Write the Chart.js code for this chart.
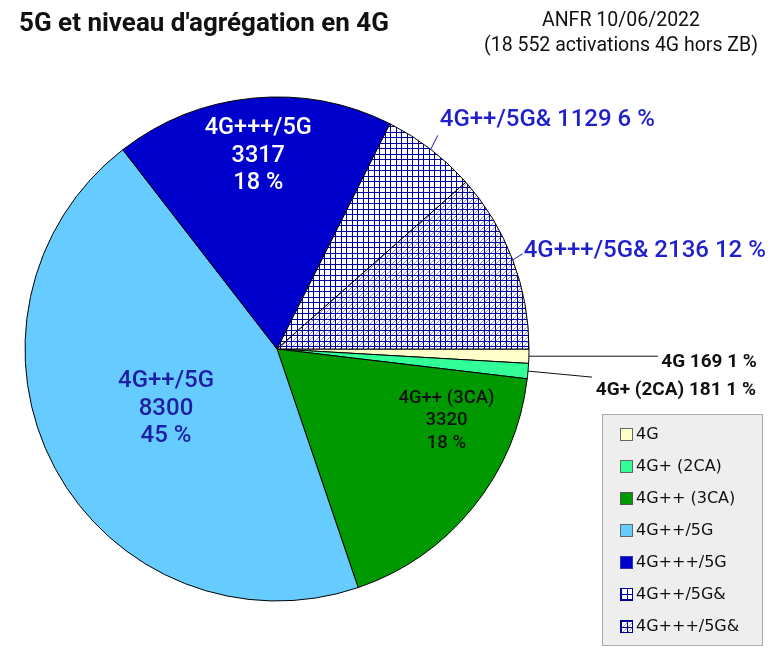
<!DOCTYPE html>
<html>
<head>
<meta charset="utf-8">
<script src="https://cdn.jsdelivr.net/npm/chart.js@4.4.1/dist/chart.umd.min.js"></script>
<style>
html,body{margin:0;padding:0;background:#fff;}
#wrap{width:769px;height:650px;position:relative;}
</style>
</head>
<body>
<div id="wrap"><canvas id="c" width="769" height="650"></canvas></div>
<script>
// ---- data ----
const categories = ['4G', '4G+ (2CA)', '4G++ (3CA)', '4G++/5G', '4G+++/5G', '4G++/5G&', '4G+++/5G&'];
const activations = [169, 181, 3320, 8300, 3317, 1129, 2136];
const titleText = "5G et niveau d'agrégation en 4G";
const sourceLines = ['ANFR 10/06/2022', '(18 552 activations 4G hors ZB)'];

// ---- patterns ----
function makePattern(diag) {
  const t = document.createElement('canvas');
  t.width = 11; t.height = 11;
  const g = t.getContext('2d');
  g.fillStyle = '#ffffff'; g.fillRect(0, 0, 11, 11);
  if (diag) {
    g.strokeStyle = 'rgba(90,90,215,0.65)'; g.lineWidth = 1;
    g.beginPath();
    [[0,5,5,0],[0,11,5,6],[6,5,11,0],[6,11,11,6]].forEach(([x1,y1,x2,y2])=>{g.moveTo(x1+0.5,y1+0.5);g.lineTo(x2+0.5,y2+0.5);});
    g.stroke();
  }
  g.fillStyle = '#00009c';
  g.fillRect(0, 0, 1, 11); g.fillRect(5, 0, 1, 11);
  g.fillRect(0, 0, 11, 1); g.fillRect(0, 5, 11, 1);
  return document.getElementById('c').getContext('2d').createPattern(t, 'repeat');
}
const gridPat = makePattern(false);
const diagPat = makePattern(true);
const sliceColors = ['#ffffcc', '#33ff99', '#009900', '#66ccff', '#0000cc', gridPat, diagPat];
const swatchBorders = ['#666', '#666', '#555', '#666', '#3333aa', '#00009c', '#00009c'];

const total = activations.reduce((a, b) => a + b, 0);
const pct = v => Math.round(v / total * 100) + ' %';

// label styles: inside (multi-line) or outside (single line with leader)
const labelStyles = [
  {type:'out', color:'#111', font:'bold 19px Roboto', lead:[129,0], align:'right', tx:99, ty:6},
  {type:'out', color:'#111', font:'bold 19px Roboto', lead:[64,6], align:'right', tx:164, ty:13},
  {type:'in', color:'#111', font:'500 18.5px Roboto', frac:0.25, r:0.73, lh:22.5},
  {type:'in', color:'#1f1fa6', font:'500 24px Roboto', frac:0.5, r:0.5, lh:27.5},
  {type:'in', color:'#ffffff', font:'500 23.5px Roboto', frac:0.5, r:0.77, lh:27.5},
  {type:'out', color:'#1f1fcc', font:'500 24px Roboto', lead:[7,-14], align:'left', tx:2, ty:-15},
  {type:'out', color:'#1f1fcc', font:'500 24px Roboto', lead:[10,-6], align:'left', tx:1, ty:-3},
];

const textPlugin = {
  id: 'texts',
  afterDatasetsDraw(chart) {
    const ctx = chart.ctx;
    const meta = chart.getDatasetMeta(0);
    ctx.save();
    meta.data.forEach((arc, i) => {
      const s = labelStyles[i];
      const v = activations[i];
      const {x, y, startAngle, endAngle, outerRadius} = arc.getProps(['x','y','startAngle','endAngle','outerRadius'], true);
      ctx.font = s.font; ctx.fillStyle = s.color; ctx.textBaseline = 'middle';
      if (s.type === 'in') {
        const a = startAngle + (endAngle - startAngle) * s.frac;
        const cx = x + Math.cos(a) * outerRadius * s.r;
        const cy = y + Math.sin(a) * outerRadius * s.r;
        const lines = [categories[i], String(v), pct(v)];
        ctx.textAlign = 'center';
        lines.forEach((l, k) => ctx.fillText(l, cx, cy + (k - 1) * s.lh));
      } else {
        const a = (startAngle + endAngle) / 2;
        const ex = x + Math.cos(a) * outerRadius, ey = y + Math.sin(a) * outerRadius;
        const lx = ex + s.lead[0], ly = ey + s.lead[1];
        ctx.strokeStyle = s.color; ctx.lineWidth = 1;
        ctx.beginPath(); ctx.moveTo(ex, ey); ctx.lineTo(lx, ly); ctx.stroke();
        ctx.textAlign = s.align;
        ctx.fillText(categories[i] + ' ' + v + ' ' + pct(v), lx + s.tx, ly + s.ty);
      }
    });
    // title
    ctx.fillStyle = '#111'; ctx.textAlign = 'left'; ctx.textBaseline = 'middle';
    ctx.font = 'bold 26px Roboto';
    ctx.fillText(titleText, 19, 24);
    ctx.font = '19.5px Roboto'; ctx.textAlign = 'center';
    ctx.fillText(sourceLines[0], 621, 21);
    ctx.fillText(sourceLines[1], 621, 46);
    // legend
    const L = {x: 602, y: 414, w: 160, h: 231};
    ctx.fillStyle = '#eeeeee'; ctx.fillRect(L.x, L.y, L.w, L.h);
    ctx.strokeStyle = '#aaaaaa'; ctx.lineWidth = 1;
    ctx.strokeRect(L.x + 0.5, L.y + 0.5, L.w, L.h);
    ctx.font = '16px "DejaVu Sans"'; ctx.textAlign = 'left'; ctx.textBaseline = 'middle';
    categories.forEach((c, i) => {
      const cy = L.y + 20 + i * 32;
      ctx.fillStyle = sliceColors[i];
      ctx.fillRect(L.x + 18, cy - 6, 13, 13);
      ctx.strokeStyle = swatchBorders[i];
      ctx.strokeRect(L.x + 18.5, cy - 5.5, 12, 12);
      ctx.fillStyle = '#111';
      ctx.fillText(c, L.x + 34, cy + 1);
    });
    ctx.restore();
  }
};

new Chart(document.getElementById('c'), {
  type: 'pie',
  data: {
    labels: categories,
    datasets: [{
      data: activations,
      backgroundColor: sliceColors,
      borderColor: '#000000',
      borderWidth: 1,
      hoverOffset: 0
    }]
  },
  options: {
    responsive: false,
    animation: false,
    rotation: 90,
    radius: 252,
    layout: {padding: {left: 20, right: 235, top: 90, bottom: 42}},
    plugins: {legend: {display: false}, title: {display: false}, tooltip: {enabled: false}},
    events: []
  },
  plugins: [textPlugin]
});
</script>
</body>
</html>
